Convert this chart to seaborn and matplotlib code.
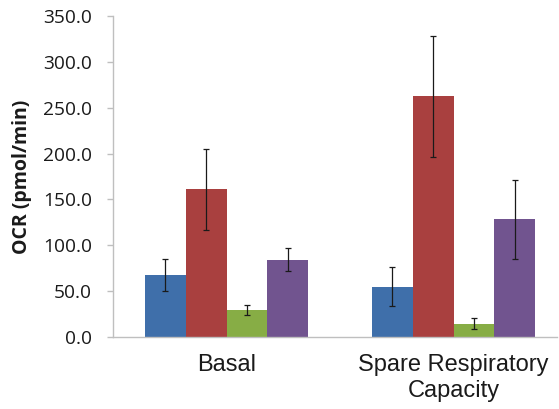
import matplotlib
matplotlib.use("Agg")
import matplotlib.pyplot as plt
import seaborn as sns
import pandas as pd
import numpy as np

# Oxygen consumption rate per condition
categories = ["Basal", "Spare Respiratory\nCapacity"]
series = ["Series 1", "Series 2", "Series 3", "Series 4"]
basal_mean = [67.5, 161.0, 29.5, 84.5]
basal_err = [17.5, 44.0, 5.0, 12.5]
spare_mean = [55.0, 262.5, 14.5, 128.5]
spare_err = [21.0, 66.0, 6.0, 43.0]
y_ticks = [0, 50, 100, 150, 200, 250, 300, 350]

colors = ["#3F6FAA", "#A9403F", "#87AD45", "#71548F"]

rows = []
for cat, means, errs in [(categories[0], basal_mean, basal_err),
                         (categories[1], spare_mean, spare_err)]:
    for s, m, e in zip(series, means, errs):
        rows.append({"category": cat, "series": s, "ocr": m, "err": e})
df = pd.DataFrame(rows)

sns.set_style("white")
fig = plt.figure(figsize=(5.59, 4.09), dpi=100)
ax = fig.add_axes([113 / 559, 1 - 337 / 409, (557 - 113) / 559, (337 - 16) / 409])

sns.barplot(data=df, x="category", y="ocr", hue="series", order=categories,
            hue_order=series, palette=colors, width=0.722, gap=0,
            errorbar=None, legend=False, saturation=1, linewidth=0, ax=ax)

# error bars centred on each bar
for patch_group, s in zip(ax.containers, series):
    sub = df[df["series"] == s].set_index("category").loc[categories]
    xs = [p.get_x() + p.get_width() / 2 for p in patch_group]
    ax.errorbar(xs, sub["ocr"].values, yerr=sub["err"].values, fmt="none",
                ecolor="#1a1a1a", elinewidth=0.9, capsize=2.5, capthick=0.9)

ax.set_xlim(-0.5, -0.5 + (557 - 113) / 227)
ax.set_ylim(0, 350)
ax.set_yticks(y_ticks)
ax.set_yticklabels([f"{v:.1f}" for v in y_ticks], fontsize=13.8,
                   family="Open Sans", color="#1a1a1a")
ax.set_xticks(range(len(categories)))
ax.set_xticklabels(categories, fontsize=17, family="Liberation Sans",
                   color="#1a1a1a", linespacing=1.25)
ax.set_xlabel("")
ax.set_ylabel("OCR (pmol/min)", fontsize=14, family="Open Sans",
              fontweight="bold", color="#1a1a1a", labelpad=8)

for side in ["top", "right"]:
    ax.spines[side].set_visible(False)
for side in ["left", "bottom"]:
    ax.spines[side].set_color("#BFBFBF")
    ax.spines[side].set_linewidth(1.0)
ax.tick_params(axis="y", length=4, width=1, color="#BFBFBF", pad=11, left=True)
ax.tick_params(axis="x", length=0, pad=12)

fig.savefig("out.png", dpi=100)
